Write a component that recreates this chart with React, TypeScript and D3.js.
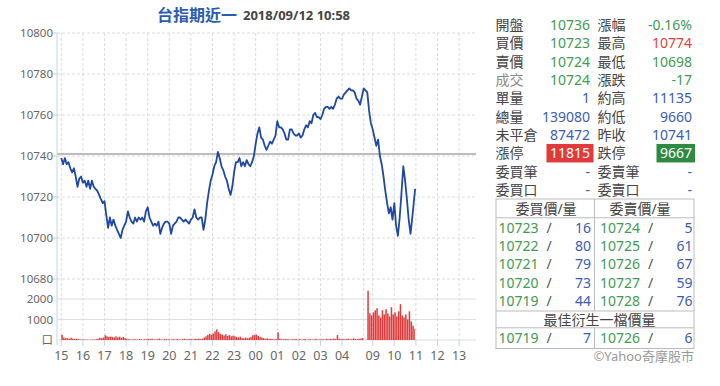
import React from 'react';
import * as d3 from 'd3';

// session clock: night 15:00-05:00, day 08:45-13:45, 5-minute samples
const nightOpen = '15:00';
const dayOpen = '08:45';
const dayLast = '10:58';
const sampleMin = 5;

const nightPrice = [
  10739, 10736, 10739, 10736, 10737, 10734, 10732, 10734, 10730, 10725, 10729, 10730,
  10727, 10728, 10725, 10728, 10724, 10728, 10725, 10724, 10723, 10721, 10719, 10717,
  10718, 10711, 10705, 10710, 10706, 10709, 10706, 10704, 10702, 10700, 10704, 10706,
  10708, 10713, 10710, 10708, 10707, 10710, 10708, 10710, 10709, 10710, 10708, 10713,
  10715, 10710, 10708, 10706, 10707, 10706, 10708, 10702, 10705, 10707, 10708, 10708,
  10707, 10702, 10706, 10707, 10708, 10710, 10710, 10709, 10708, 10709, 10708, 10707,
  10709, 10710, 10714, 10710, 10709, 10710, 10710, 10704, 10709, 10717, 10723, 10728,
  10731, 10735, 10737, 10742, 10739, 10735, 10733, 10730, 10728, 10724, 10721, 10725,
  10732, 10737, 10737, 10739, 10735, 10737, 10735, 10738, 10736, 10735, 10737, 10740,
  10746, 10751, 10754, 10749, 10748, 10745, 10743, 10745, 10747, 10746, 10748, 10750,
  10757, 10754, 10754, 10753, 10751, 10748, 10748, 10753, 10753, 10751, 10750, 10750,
  10751, 10749, 10750, 10753, 10755, 10754, 10757, 10756, 10760, 10761, 10759, 10759,
  10758, 10760, 10763, 10764, 10764, 10763, 10764, 10763, 10765, 10768, 10769, 10768,
  10768, 10770, 10771, 10772, 10773, 10772, 10772, 10771, 10768, 10767, 10765, 10769,
  10773,
];

const dayPrice = [
  10771, 10762, 10756, 10753, 10749, 10745, 10748, 10740, 10736, 10730, 10723, 10717,
  10712, 10715, 10709, 10717, 10706, 10701, 10710, 10722, 10735, 10728, 10719, 10709,
  10702, 10710, 10719, 10724,
];

const nightVol = [
  250, 120, 90, 80, 60, 110, 70, 50, 60, 40, 30, 20,
  30, 20, 20, 10, 20, 30, 20, 40, 60, 110, 90, 120,
  230, 180, 150, 170, 140, 120, 180, 130, 160, 110, 150, 90,
  60, 40, 30, 20, 40, 30, 20, 50, 30, 20, 40, 30,
  50, 40, 60, 30, 20, 40, 70, 30, 20, 50, 40, 30,
  20, 30, 40, 20, 50, 30, 20, 40, 60, 30, 40, 50,
  40, 30, 60, 50, 70, 40, 60, 120, 180, 250, 300, 260,
  320, 420, 520, 380, 300, 260, 220, 280, 200, 240, 180, 210,
  180, 150, 120, 160, 100, 80, 120, 90, 110, 140, 230, 250,
  260, 200, 150, 120, 90, 60, 80, 50, 60, 40, 30, 40,
  380, 60, 40, 30, 50, 40, 30, 20, 40, 30, 50, 20,
  40, 20, 30, 50, 20, 30, 40, 20, 30, 50, 20, 30,
  30, 40, 20, 60, 30, 50, 40, 70, 50, 240, 60, 40,
  50, 30, 40, 60, 30, 40, 80, 50, 40, 60, 70, 90,
];

const dayVol = [
  2400, 1300, 1200, 1350, 1450, 1550, 1200, 1100, 1450, 1250, 1500, 1300,
  1150, 1600, 1250, 1350, 1150, 1400, 1750, 1200, 1100, 1250, 1000, 1400,
  900, 700, 550,
];

const priceTicks = [10680, 10700, 10720, 10740, 10760, 10780, 10800];
const volTicks = [1000, 2000];
const prevClose = 10741;
const hourLabels = ['15', '16', '17', '18', '19', '20', '21', '22', '23', '00', '01', '02', '03', '04', '09', '10', '11', '12', '13'];

const leftLabels = ['開盤', '買價', '賣價', '成交', '單量', '總量', '未平倉', '漲停', '委買筆', '委買口'];
const leftValues = ['10736', '10723', '10724', '10724', '1', '139080', '87472', '11815', '-', '-'];
const leftTones = ['down', 'down', 'down', 'down', 'info', 'info', 'info', 'limitUp', 'info', 'info'];
const rightLabels = ['漲幅', '最高', '最低', '漲跌', '約高', '約低', '昨收', '跌停', '委賣筆', '委賣口'];
const rightValues = ['-0.16%', '10774', '10698', '-17', '11135', '9660', '10741', '9667', '-', '-'];
const rightTones = ['down', 'up', 'down', 'down', 'info', 'info', 'info', 'limitDown', 'info', 'info'];

const bidPrices = [10723, 10722, 10721, 10720, 10719];
const bidQty = [16, 80, 79, 73, 44];
const askPrices = [10724, 10725, 10726, 10727, 10728];
const askQty = [5, 61, 67, 59, 76];
const bestBid = [10719, 7];
const bestAsk = [10726, 6];

const toMin = (s: string) => {
  const [h, m] = s.split(':').map(Number);
  return h * 60 + m;
};
const NIGHT_LEN = 840;
const DAY_BASE = 850;
const nightMin = (s: string) => (toMin(s) - toMin(nightOpen) + 1440) % 1440;
const dayMin = (s: string) => DAY_BASE + toMin(s) - toMin(dayOpen);

const GREEN = '#3f9a55';
const RED = '#e5403c';
const BLUE = '#3a5cb6';
const LABEL = '#444';
const toneColor: Record<string, string> = { down: GREEN, up: RED, info: BLUE };
const FONT = "'Noto Sans', 'Noto Sans CJK TC', sans-serif";

export default function App() {
  const x = d3.scaleLinear().domain([0, 1150]).range([61.3, 475.3]);
  const yP = d3.scaleLinear().domain([10680, 10800]).range([279, 33]);
  const yV = d3.scaleLinear().domain([0, 3000]).range([340, 278.5]);
  const left = 57;
  const right = 476;

  const dayEnd = dayMin(dayLast) - DAY_BASE;
  const pts = [
    ...nightPrice.map((p, i) => ({ m: i * sampleMin, p })),
    ...dayPrice.map((p, i) => ({ m: DAY_BASE + Math.min(i * sampleMin, dayEnd), p })),
  ];
  const line = d3.line<{ m: number; p: number }>().x(d => x(d.m)).y(d => yP(d.p));

  const bars = [
    ...nightVol.map((v, i) => ({ m: i * sampleMin, w: sampleMin, v })),
    ...dayVol.map((v, i) => ({
      m: DAY_BASE + i * sampleMin,
      w: Math.min(sampleMin, dayEnd - i * sampleMin),
      v,
    })),
  ];

  const xTicks = hourLabels.map(h => {
    const hh = Number(h);
    const s = `${h}:00`;
    const m = hh >= 15 || hh <= 5 ? nightMin(s) : dayMin(s);
    return { m, label: h };
  });
  const gridX = [...xTicks.map(t => t.m), NIGHT_LEN];

  const rowY = (i: number) => 25 + i * 18.35;
  const tabTop = 199;
  const tabL = 496;
  const tabR = 694;
  const tabMid = 594.5;
  const bookY = (i: number) => 227.5 + i * 18.35;

  return (
    <svg width={720} height={386} style={{ position: 'absolute', left: 0, top: 0, background: '#fff' }} fontFamily={FONT}>
      {/* title */}
      <text x={157} y={21} fontSize={16} fontWeight="bold" fill="#2b5bb3" fontFamily="'Noto Sans CJK TC', sans-serif">台指期近一</text>
      <text x={243} y={20} fontSize={13} fontWeight="bold" fill="#444">2018/09/12 10:58</text>

      {/* grid */}
      {priceTicks.map(t => (
        <line key={t} x1={left} x2={right} y1={yP(t)} y2={yP(t)} stroke="#dcdcdc" strokeDasharray="3,2" />
      ))}
      {volTicks.map(t => (
        <line key={t} x1={left} x2={right} y1={yV(t)} y2={yV(t)} stroke="#dedede" />
      ))}
      {gridX.map(m => (
        <line key={m} x1={x(m)} x2={x(m)} y1={33} y2={340} stroke="#dcdcdc" strokeDasharray="3,2" />
      ))}
      <line x1={left} x2={right} y1={yV(0)} y2={yV(0)} stroke="#d8dde6" />
      <line x1={left} x2={right} y1={yP(prevClose)} y2={yP(prevClose)} stroke="#bdbdbd" strokeWidth={2} />
      <line x1={left} x2={left} y1={33} y2={345} stroke="#c5d6ea" />

      {/* y labels */}
      {priceTicks.map(t => (
        <g key={t}>
          <line x1={left - 4} x2={left} y1={yP(t)} y2={yP(t)} stroke="#ccc" />
          <text x={53} y={yP(t) + 4} fontSize={11.5} fill="#666" textAnchor="end">{t}</text>
        </g>
      ))}
      {volTicks.map(t => (
        <text key={t} x={53} y={yV(t) + 4} fontSize={11.5} fill="#666" textAnchor="end">{t}</text>
      ))}
      <text x={53} y={yV(0) + 4} fontSize={11.5} fill="#666" textAnchor="end">口</text>

      {/* x labels */}
      {xTicks.map(t => (
        <g key={t.label}>
          <line x1={x(t.m)} x2={x(t.m)} y1={340} y2={346} stroke="#c5d6ea" />
          <text x={x(t.m)} y={360} fontSize={12.5} fill="#666" textAnchor="middle">{t.label}</text>
        </g>
      ))}

      {/* volume */}
      {bars.map((b, i) => (
        <rect key={i} x={x(b.m)} width={Math.max(0.8, x(b.m + b.w) - x(b.m) - 0.3)} y={yV(b.v)} height={yV(0) - yV(b.v)} fill="#e23b3b" />
      ))}

      {/* price line */}
      <path d={line(pts) || ''} fill="none" stroke="#1f48a3" strokeWidth={1.8} strokeLinejoin="round" />

      {/* quote panel */}
      {leftLabels.map((l, i) => (
        <g key={l}>
          <text x={495.5} y={rowY(i) + 5} fontSize={14} fill={l === '成交' ? '#888' : LABEL}>{l}</text>
          {leftTones[i] === 'limitUp' && <rect x={546.5} y={rowY(i) - 9.5} width={47} height={18.5} fill="#e23a3a" />}
          <text x={590} y={rowY(i) + 5} fontSize={14} textAnchor="end" fill={leftTones[i] === 'limitUp' ? '#fff' : toneColor[leftTones[i]]}>{leftValues[i]}</text>
        </g>
      ))}
      {rightLabels.map((l, i) => (
        <g key={l}>
          <text x={597.5} y={rowY(i) + 5} fontSize={14} fill={LABEL}>{l}</text>
          {rightTones[i] === 'limitDown' && <rect x={656.5} y={rowY(i) - 9.5} width={38.5} height={18.5} fill="#2e8a41" />}
          <text x={692} y={rowY(i) + 5} fontSize={14} textAnchor="end" fill={rightTones[i] === 'limitDown' ? '#fff' : toneColor[rightTones[i]]}>{rightValues[i]}</text>
        </g>
      ))}

      {/* order book */}
      <g stroke="#bbb" fill="none">
        <rect x={tabL} y={tabTop} width={tabR - tabL} height={348.5 - tabTop} />
        <line x1={tabL} x2={tabR} y1={217.8} y2={217.8} />
        <line x1={tabL} x2={tabR} y1={311} y2={311} />
        <line x1={tabL} x2={tabR} y1={327.8} y2={327.8} />
        <line x1={tabMid} x2={tabMid} y1={tabTop} y2={311} />
        <line x1={tabMid} x2={tabMid} y1={327.8} y2={348.5} />
      </g>
      <text x={546} y={213.5} fontSize={14} fill={LABEL} textAnchor="middle">委買價/量</text>
      <text x={640} y={213.5} fontSize={14} fill={LABEL} textAnchor="middle">委賣價/量</text>
      {bidPrices.map((p, i) => (
        <g key={p}>
          <text x={498.5} y={bookY(i) + 5} fontSize={14} fill={GREEN}>{p}</text>
          <text x={549} y={bookY(i) + 5} fontSize={14} fill="#555" textAnchor="middle">/</text>
          <text x={591} y={bookY(i) + 5} fontSize={14} fill={BLUE} textAnchor="end">{bidQty[i]}</text>
          <text x={600} y={bookY(i) + 5} fontSize={14} fill={GREEN}>{askPrices[i]}</text>
          <text x={650.5} y={bookY(i) + 5} fontSize={14} fill="#555" textAnchor="middle">/</text>
          <text x={692.5} y={bookY(i) + 5} fontSize={14} fill={BLUE} textAnchor="end">{askQty[i]}</text>
        </g>
      ))}
      <text x={599.5} y={324.5} fontSize={14} fill={LABEL} textAnchor="middle">最佳衍生一檔價量</text>
      <text x={498.5} y={342.5} fontSize={14} fill={GREEN}>{bestBid[0]}</text>
      <text x={549} y={342.5} fontSize={14} fill="#555" textAnchor="middle">/</text>
      <text x={591} y={342.5} fontSize={14} fill={BLUE} textAnchor="end">{bestBid[1]}</text>
      <text x={600} y={342.5} fontSize={14} fill={GREEN}>{bestAsk[0]}</text>
      <text x={650.5} y={342.5} fontSize={14} fill="#555" textAnchor="middle">/</text>
      <text x={692.5} y={342.5} fontSize={14} fill={BLUE} textAnchor="end">{bestAsk[1]}</text>
      <text x={694} y={361} fontSize={13} fill="#999" textAnchor="end">©Yahoo奇摩股市</text>
    </svg>
  );
}
